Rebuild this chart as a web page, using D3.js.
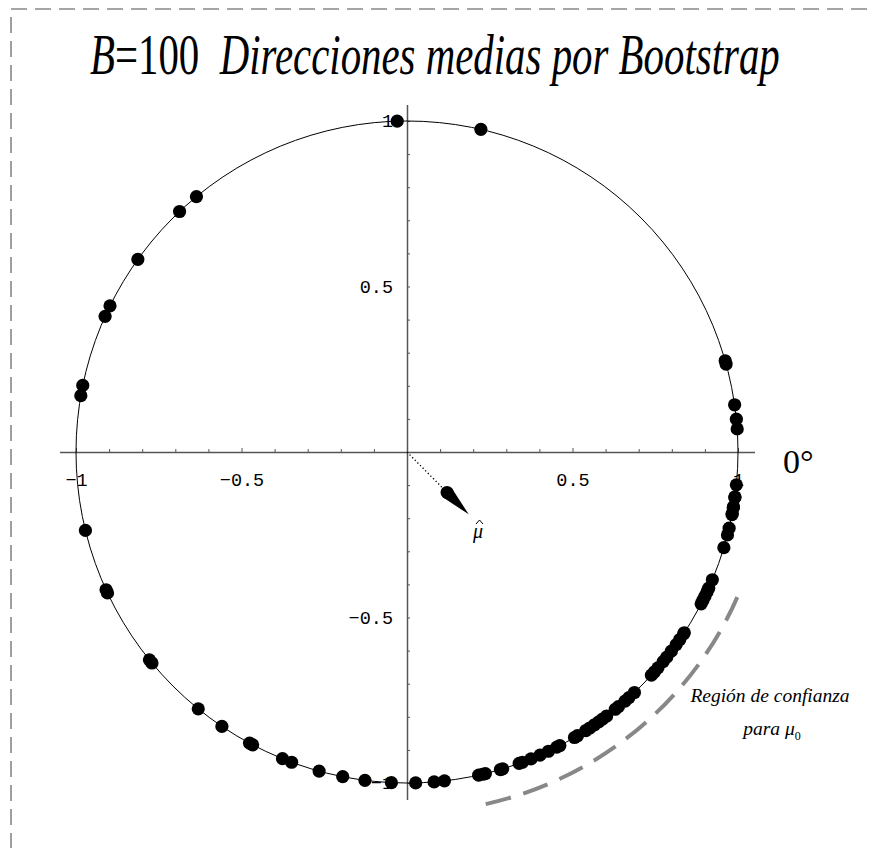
<!DOCTYPE html>
<html>
<head>
<meta charset="utf-8">
<script src="https://cdn.jsdelivr.net/npm/d3@7"></script>
<style>
  body { margin: 0; background: #fff; }
  svg { display: block; }
</style>
</head>
<body>
<svg id="chart" width="870" height="848"></svg>
<script>
// bootstrap mean directions, degrees
const upperAngles = [91.7, 77.1, 129.5, 133.4, 144.4, 153.8, 155.8, 168.4, 170.2, 15.4, 16.0, 8.2, 5.7, 4.0];
const lowerLeftAngles = [193.7, 204.6, 205.2, 218.9, 219.6, 230.9, 236.0, 241.6, 242.2, 247.9, 249.6, 254.6, 258.8, 262.7, 267.3];
const lowerRightAngles = [-88.5, -85.3, -83.5, -77.5, -76.8, -76.3, -73.6, -73.2, -70.2, -69.6, -68.0, -66.3, -64.7,
  -63.1, -62.5, -59.6, -59.0, -57.3, -56.5, -55.5, -54.6, -53.8, -52.9, -51.0, -50.3, -48.8, -47.9, -46.6,
  -42.4, -41.6, -40.7, -39.3, -38.3, -37.0, -35.6, -34.5, -33.3, -33.1, -27.3, -26.6, -25.8, -25.0, -24.3,
  -22.7, -16.8, -14.5, -13.3, -10.9, -10.7, -9.7, -9.5, -7.9, -7.8, -5.7];

const meanAngle = -45.3;     // direction of mu hat
const meanLength = 0.265;    // resultant length
const regionAngles = [-77.4, -23.6];
const regionRadius = 1.09;

const minorTicks = d3.range(-10, 11).filter((i) => i !== 0).map((i) => i / 10);
const labelTicks = [-1, -0.5, 0.5, 1];

const svg = d3.select('#chart');
const x = d3.scaleLinear().domain([-1.05, 1.05]).range([407 - 1.05 * 331, 407 + 1.05 * 331]);
const y = d3.scaleLinear().domain([-1.05, 1.05]).range([452 + 1.05 * 331, 452 - 1.05 * 331]);
const fmt = (d) => (d < 0 ? '\u2212' : '') + Math.abs(d);
const rad = (a) => a * Math.PI / 180;

// dashed frame
svg.append('rect').attr('x', 11).attr('y', 9).attr('width', 900).attr('height', 900)
  .attr('fill', 'none').attr('stroke', '#888').attr('stroke-width', 1.6)
  .attr('stroke-dasharray', '16,8');

// title, condensed like the original
const title = svg.append('text').attr('x', 0).attr('y', 0)
  .attr('font-family', 'Liberation Serif, Times New Roman, serif').attr('font-size', 56);
title.append('tspan').attr('font-style', 'italic').text('B');
title.append('tspan').text('=100\u00a0\u00a0');
title.append('tspan').attr('font-style', 'italic').text('Direcciones medias por Bootstrap');
const tw = title.node().getComputedTextLength();
const sx = 690 / tw;
title.attr('transform', `translate(90,74) scale(${sx},1)`);

// axes
const axisColor = '#555';
const gx = svg.append('g').attr('transform', `translate(0,${y(0)})`)
  .call(d3.axisTop(x).tickValues(minorTicks).tickSize(3).tickSizeOuter(0).tickFormat(''));
gx.selectAll('.tick line').attr('stroke', axisColor).attr('y2', (d) => (d % 0.5 === 0 ? -4 : -3));
gx.select('.domain').attr('stroke', axisColor).attr('stroke-width', 1.5);

const gy = svg.append('g').attr('transform', `translate(${x(0)},0)`)
  .call(d3.axisRight(y).tickValues(minorTicks).tickSize(3).tickSizeOuter(0).tickFormat(''));
gy.selectAll('.tick line').attr('stroke', axisColor);
gy.select('.domain').attr('stroke', axisColor).attr('stroke-width', 1.5);

const lx = svg.append('g').attr('transform', `translate(0,${y(0)})`)
  .call(d3.axisBottom(x).tickValues(labelTicks).tickSize(0).tickFormat(fmt).tickPadding(21));
lx.select('.domain').remove();
lx.selectAll('text').attr('font-family', 'Liberation Mono, Courier New, monospace').attr('font-size', 18.5).attr('fill', '#000');

const ly = svg.append('g').attr('transform', `translate(${x(0)},0)`)
  .call(d3.axisLeft(y).tickValues(labelTicks).tickSize(0).tickFormat(fmt).tickPadding(14));
ly.select('.domain').remove();
ly.selectAll('text').attr('font-family', 'Liberation Mono, Courier New, monospace').attr('font-size', 18.5).attr('fill', '#000');

// unit circle
svg.append('circle').attr('cx', x(0)).attr('cy', y(0)).attr('r', x(1) - x(0))
  .attr('fill', 'none').attr('stroke', '#000').attr('stroke-width', 1);

// bootstrap points
const allAngles = upperAngles.concat(lowerLeftAngles, lowerRightAngles);
svg.append('g').selectAll('circle').data(allAngles).join('circle')
  .attr('cx', (d) => x(Math.cos(rad(d))))
  .attr('cy', (d) => y(Math.sin(rad(d))))
  .attr('r', 6.6)
  .attr('fill', '#000');

// mean direction arrow
const mc = Math.cos(rad(meanAngle));
const ms = Math.sin(rad(meanAngle));
const baseR = 0.172;
svg.append('line').attr('x1', x(0)).attr('y1', y(0)).attr('x2', x(0.155 * mc)).attr('y2', y(0.155 * ms))
  .attr('stroke', '#000').attr('stroke-width', 1.3).attr('stroke-dasharray', '1.3,2.4');
const bx = x(baseR * mc);
const by = y(baseR * ms);
const tx = x(meanLength * mc);
const ty = y(meanLength * ms);
const len = Math.hypot(tx - bx, ty - by);
const px = -(ty - by) / len;
const py = (tx - bx) / len;
svg.append('circle').attr('cx', bx).attr('cy', by).attr('r', 6.5).attr('fill', '#000');
svg.append('path')
  .attr('d', `M${bx + px * 6.5},${by + py * 6.5}L${tx},${ty}L${bx - px * 6.5},${by - py * 6.5}Z`)
  .attr('fill', '#000');
svg.append('text').attr('x', 478).attr('y', 538).attr('text-anchor', 'middle')
  .attr('font-family', 'Liberation Serif, serif').attr('font-style', 'italic').attr('font-size', 20)
  .text('\u03bc');
// hat over mu
svg.append('path').attr('d', 'M476,524L479.5,520L483,524')
  .attr('fill', 'none').attr('stroke', '#000').attr('stroke-width', 1);

// 0 degree label
svg.append('text').attr('x', 783).attr('y', 473)
  .attr('font-family', 'Liberation Serif, serif').attr('font-size', 34)
  .text('0\u00b0');

// confidence region arc
const arcPath = d3.path();
arcPath.arc(x(0), y(0), x(regionRadius) - x(0), -rad(regionAngles[0]), -rad(regionAngles[1]), true);
svg.append('path').attr('d', arcPath.toString())
  .attr('fill', 'none').attr('stroke', '#888').attr('stroke-width', 4)
  .attr('stroke-dasharray', '26,13');

const lab = svg.append('g').attr('font-family', 'Liberation Serif, serif').attr('font-style', 'italic')
  .attr('font-size', 19.5).attr('text-anchor', 'middle');
lab.append('text').attr('x', 770).attr('y', 702).text('Región de confianza');
const p2 = lab.append('text').attr('x', 772).attr('y', 735);
p2.append('tspan').text('para \u03bc');
p2.append('tspan').attr('font-style', 'normal').attr('font-size', 12).attr('dy', 5).text('0');
</script>
</body>
</html>
